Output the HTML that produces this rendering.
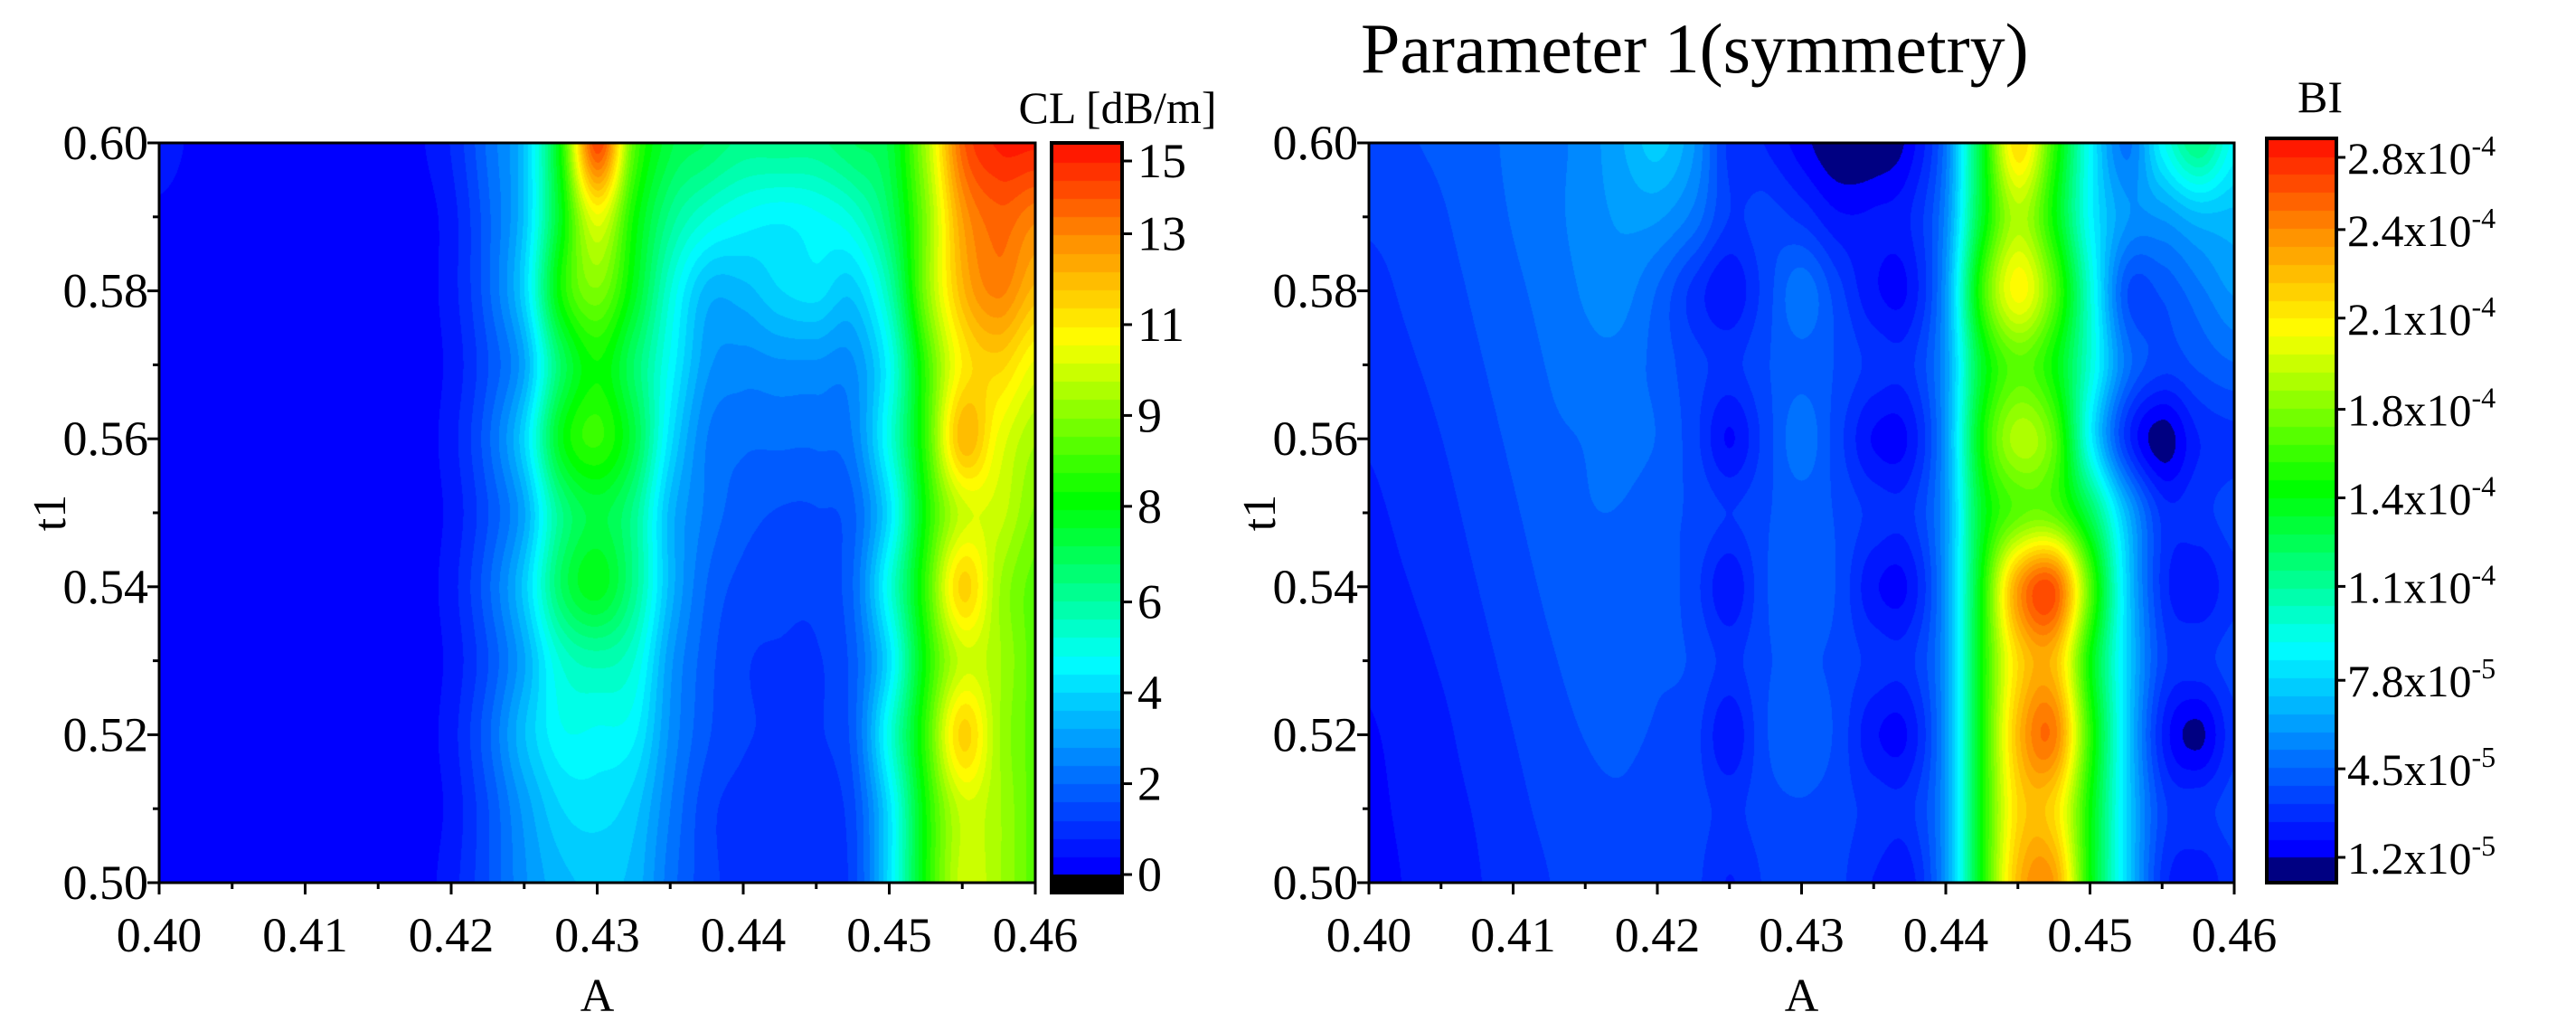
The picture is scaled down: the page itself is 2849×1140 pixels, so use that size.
<!DOCTYPE html>
<html><head><meta charset="utf-8">
<style>
html,body{margin:0;padding:0;background:#fff;}
#wrap{position:relative;width:2849px;height:1140px;overflow:hidden;font-family:"Liberation Serif",serif;}
canvas{position:absolute;}
svg{position:absolute;left:0;top:0;}
text{font-family:"Liberation Serif",serif;fill:#000;}
</style></head>
<body>
<div id="wrap">
<canvas id="c1" width="969" height="818" style="left:176px;top:158px"></canvas>
<canvas id="c2" width="957" height="818" style="left:1514px;top:158px"></canvas>
<canvas id="cb1" width="78" height="829" style="left:1163px;top:158px"></canvas>
<canvas id="cb2" width="77" height="823" style="left:2507px;top:153px"></canvas>
<svg id="s" width="2849" height="1140"></svg>
</div>
<script>
// ---- data ----
const xCats = [0.400,0.4025,0.405,0.4075,0.410,0.4125,0.415,0.4175,0.420,0.4225,0.425,0.4275,0.430,0.4325,0.435,0.4375,0.440,0.4425,0.445,0.4475,0.450,0.4525,0.455,0.4575,0.460];
const yCats = [0.60,0.59,0.58,0.57,0.56,0.55,0.54,0.53,0.52,0.51,0.50];
const clValues = [
[0.6,0.3,0.3,0.3,0.3,0.3,0.3,0.3,0.8,2,3.5,8,14.5,9,7,6.5,6,6,6,6.5,7,10,14,15,15],
[0.3,0.2,0.2,0.2,0.2,0.2,0.2,0.2,0.6,1.8,3.5,7.5,11,8,6,5,4.5,4.3,4.5,5,6.5,9.5,13,14,13.5],
[0.2,0.2,0.2,0.2,0.2,0.2,0.2,0.2,0.6,1.8,3.8,8,9.5,7.5,5,3.3,3.3,3.8,4,3.6,5.5,9.5,12.5,13.5,12.5],
[0.2,0.2,0.2,0.2,0.2,0.2,0.2,0.2,0.5,1.5,3,6.5,8,6.5,4.5,2.8,2.5,2.6,2.6,2.6,4.5,8.5,11.5,12,11],
[0.2,0.2,0.2,0.2,0.2,0.2,0.2,0.2,0.6,1.8,3.8,7.5,8.5,7,4,2.3,2,2,2,2.3,4.8,8.5,12.5,11,10],
[0.2,0.2,0.2,0.2,0.2,0.2,0.2,0.2,0.5,1.5,3,6,7,6,3.3,2.2,1.7,1.5,1.5,1.8,4,8,10.5,10.5,9.5],
[0.2,0.2,0.2,0.2,0.2,0.2,0.2,0.2,0.6,1.8,3.6,6.5,7.5,6,3.3,1.9,1.4,1.3,1.3,1.9,4.8,8.5,12,10,9],
[0.2,0.2,0.2,0.2,0.2,0.2,0.2,0.2,0.5,1.5,3,5,5.5,5,2.8,1.7,1.2,1.1,1.1,1.7,4,8,10.5,10,9],
[0.2,0.2,0.2,0.2,0.2,0.2,0.2,0.2,0.6,1.8,3.4,4.5,4.5,4.3,2.6,1.6,1.2,1.1,1.1,1.7,4.8,8.5,12,10,9],
[0.2,0.2,0.2,0.2,0.2,0.2,0.2,0.2,0.5,1.5,2.8,3.8,4,3.6,2.3,1.3,1,0.9,1,1.4,4,8,10.5,10,9],
[0.2,0.2,0.2,0.2,0.2,0.2,0.2,0.2,0.6,1.5,2.6,3.3,3.5,3.3,2.1,1.3,1,0.9,1,1.3,4,8,10.5,10,9]
];
const biValues = [
[3.5,3.8,4,4.3,4.7,5,5.5,6.5,7.5,6,3,2.5,1.5,0.5,0.5,1.5,5,14,22,16,9,5,9,12,9],
[3.3,3.5,3.8,4.2,4.6,5,5.5,6,6,5,3.2,3.5,3,2,2,2.5,5.5,14,19,15,9,6,6,7,7],
[3,3.3,3.6,4,4.4,4.8,5.3,5.5,4.5,3,2,3.5,5,3.5,2,2,6,16,21,17,10,4,4,5,6],
[2.8,3.1,3.4,3.8,4.2,4.6,5,5,4.3,3.5,3,3.8,4.3,3.8,3,3,6,14,17,15,10,5,3.5,4,4.5],
[2.6,2.9,3.2,3.6,4,4.4,4.6,5,4.5,3.5,1.8,3.5,5,3.5,1.8,2,6,15,19,17,9,3,0.8,2.5,3],
[2.4,2.7,3,3.4,3.8,4.2,4.5,4.5,4,3.8,3.2,3.8,4.2,3.8,3,3,6,14,17,17,13,7,3,3,3.5],
[2.2,2.5,2.8,3.2,3.6,4,4.3,4.5,4.3,3.5,2,3.8,4.5,3.8,2,2,6,15,24,26,17,8,3,2,3],
[2,2.3,2.6,3,3.4,3.8,4.1,4.2,4,3.8,3,3.8,4,3.7,3,3,6,15,22,23,15,8,3.5,3,3.5],
[1.8,2.1,2.4,2.8,3.2,3.6,3.9,4,3.8,3.5,2,3.8,4.5,3.7,2,2,6,15,23,25,16,8,2.5,1,3],
[1.7,2,2.3,2.6,3,3.4,3.7,3.8,3.6,3.5,3,3.6,3.8,3.5,3,3,6,15,22,22,15,8,3.5,3,3.5],
[1.6,1.9,2.2,2.5,2.8,3.2,3.5,3.7,3.5,3.4,2.5,3.3,3.8,3.4,2.5,2.2,6,15,23,24,15,8,3,2,3]
];
const xTickLabels = ["0.40","0.41","0.42","0.43","0.44","0.45","0.46"];
const yTickLabels = ["0.50","0.52","0.54","0.56","0.58","0.60"];
const clTickVals = [15.3,13.4,11.5,9.6,7.7,5.7,3.8,1.9,0];
const clTickLabels = ["15","13","11","9","8","6","4","2","0"];
const biTickVals = [28,24.6,21.3,17.9,14.6,11.3,7.8,4.5,1.2];
const biTickMant = ["2.8","2.4","2.1","1.8","1.4","1.1","7.8","4.5","1.2"];
const biTickExp = ["-4","-4","-4","-4","-4","-4","-5","-5","-5"];

// ---- colour ----
function jet(t){
  const st=[[0,0,0,255],[0.28,0,255,255],[0.5,0,255,0],[0.72,255,255,0],[0.86,255,140,0],[1,255,0,0]];
  t=Math.max(0,Math.min(1,t));
  for(let i=1;i<st.length;i++){ if(t<=st[i][0]){const a=st[i-1],b=st[i];const f=(t-a[0])/(b[0]-a[0]);
    return [a[1]+(b[1]-a[1])*f,a[2]+(b[2]-a[2])*f,a[3]+(b[3]-a[3])*f];}}
  return [255,0,0];
}
function cr(p0,p1,p2,p3,t){return 0.5*((2*p1)+(-p0+p2)*t+(2*p0-5*p1+4*p2-p3)*t*t+(-p0+3*p1-3*p2+p3)*t*t*t);}
function sample(g,fx,fy){
  const R=g.length,C=g[0].length;
  const ix=Math.floor(fx),iy=Math.floor(fy),tx=fx-ix,ty=fy-iy;
  const gv=(r,c)=>g[Math.max(0,Math.min(R-1,r))][Math.max(0,Math.min(C-1,c))];
  const rows=[];
  for(let k=-1;k<=2;k++){rows.push(cr(gv(iy+k,ix-1),gv(iy+k,ix),gv(iy+k,ix+1),gv(iy+k,ix+2),tx));}
  return cr(rows[0],rows[1],rows[2],rows[3],ty);
}
const xS=(v,x0,w)=>x0+(v-0.40)/(0.06)*w;
const yS=(v,y0,h)=>y0+(0.60-v)/(0.10)*h;
function drawMap(id,g,vmin,vmax,under,levels){
  const c=document.getElementById(id),ctx=c.getContext('2d'),W=c.width,H=c.height;
  const im=ctx.createImageData(W,H);
  for(let py=0;py<H;py++){
    const fy=(py+0.5)/H*10;
    for(let px=0;px<W;px++){
      const fx=(px+0.5)/W*24;
      let v=sample(g,fx,fy);
      let col;
      if(v<vmin){col=under;} else {let t=(v-vmin)/(vmax-vmin);t=Math.floor(t*levels)/levels;col=jet(t);}
      const o=(py*W+px)*4;im.data[o]=col[0];im.data[o+1]=col[1];im.data[o+2]=col[2];im.data[o+3]=255;
    }
  }
  ctx.putImageData(im,0,0);
}
drawMap('c1',clValues,0,15.3,[0,0,0],40);
drawMap('c2',biValues,1.2,28,[0,0,130],40);
function drawBar(id,underH,under,levels){
  const c=document.getElementById(id),ctx=c.getContext('2d'),W=c.width,H=c.height;
  const h=H-underH;
  for(let i=0;i<levels;i++){const col=jet(i/levels);ctx.fillStyle=`rgb(${col[0]|0},${col[1]|0},${col[2]|0})`;
    const y0=h-(i+1)/levels*h;ctx.fillRect(0,Math.floor(y0),W,Math.ceil(h/levels)+1);}
  ctx.fillStyle=under;ctx.fillRect(0,h,W,underH);
}
drawBar('cb1',20,'#000',40);
drawBar('cb2',28,'rgb(0,0,130)',40);

// ---- axes ----
const S=document.getElementById('s');const NS='http://www.w3.org/2000/svg';
function el(tag,attrs,txt){const e=document.createElementNS(NS,tag);for(const k in attrs)e.setAttribute(k,attrs[k]);if(txt!==undefined)e.textContent=txt;S.appendChild(e);return e;}
function axes(x0,y0,w,h,pfx){
  let e=el('rect',{x:x0,y:y0,width:w,height:h,fill:'none',stroke:'#000','stroke-width':3});
  
  for(let i=0;i<=12;i++){const v=0.40+i*0.005;const X=xS(v,x0,w);const L=i%2?7:13;
    el('line',{x1:X,y1:y0+h,x2:X,y2:y0+h+L,stroke:'#000','stroke-width':3});}
  xTickLabels.forEach(s=>{const X=xS(parseFloat(s),x0,w);
    const t=el('text',{x:X,y:y0+h+76,'font-size':54,'text-anchor':'middle'},s);
    });
  for(let i=0;i<=10;i++){const v=0.50+i*0.01;const Y=yS(v,y0,h);const L=i%2?7:13;
    el('line',{x1:x0-L,y1:Y,x2:x0,y2:Y,stroke:'#000','stroke-width':3});}
  yTickLabels.forEach(s=>{const Y=yS(parseFloat(s),y0,h);
    const t=el('text',{x:x0-12,y:Y+18,'font-size':54,'text-anchor':'end'},s);
    });
  let a=el('text',{x:x0+w/2,y:1118,'font-size':52,'text-anchor':'middle'},'A');
  
  let b=el('text',{x:0,y:0,'font-size':52,'text-anchor':'middle',transform:`translate(${x0-104},${y0+h/2}) rotate(-90)`},'t1');
  
}
axes(176,158,969,818,'cl');
axes(1514,158,957,818,'bi');
el('rect',{x:1163,y:158,width:78,height:829,fill:'none',stroke:'#000','stroke-width':4});
const cb1h=829-20;
clTickVals.forEach((v,i)=>{const Y=158+cb1h-(v/15.3)*cb1h;
  const Yc=Math.max(178,Math.min(967,Y));
  el('line',{x1:1241,y1:Yc,x2:1252,y2:Yc,stroke:'#000','stroke-width':3});
  const t=el('text',{x:1258,y:Yc+18,'font-size':54},clTickLabels[i]);
  });
el('rect',{x:2507,y:153,width:77,height:823,fill:'none',stroke:'#000','stroke-width':4});
const cb2h=823-28;
biTickVals.forEach((v,i)=>{const Y=153+cb2h-((v-1.2)/26.8)*cb2h;
  const Yc=Math.max(174,Math.min(948,Y));
  el('line',{x1:2584,y1:Yc,x2:2594,y2:Yc,stroke:'#000','stroke-width':3});
  const t=el('text',{x:2596,y:Yc+18,'font-size':50},biTickMant[i]+'x10');
  
  const ts=document.createElementNS(NS,'tspan');ts.setAttribute('dy','-20');ts.setAttribute('font-size','32');ts.textContent=biTickExp[i];t.appendChild(ts);});
let c1=el('text',{x:1236,y:136,'font-size':50,'text-anchor':'middle'},'CL [dB/m]');

let c2=el('text',{x:2566,y:124,'font-size':50,'text-anchor':'middle'},'BI');

let tt=el('text',{x:1505,y:80,'font-size':78},'Parameter 1(symmetry)');

</script>
</body></html>
